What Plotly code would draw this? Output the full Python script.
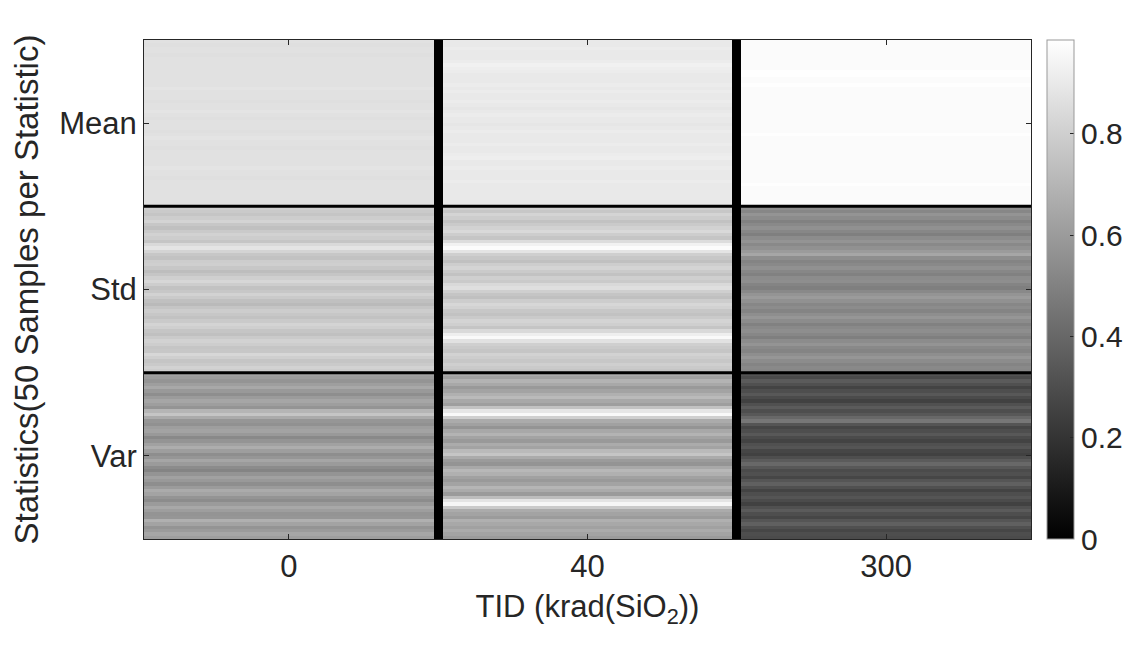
import plotly.graph_objects as go

# ---- data ----
tid_labels = ["0", "40", "300"]
stat_labels = ["Mean", "Std", "Var"]

mean0 = [0.87, 0.86, 0.87, 0.87, 0.86, 0.87, 0.87, 0.87, 0.87, 0.87, 0.87, 0.87, 0.87, 0.87, 0.88, 0.87, 0.87, 0.87, 0.86, 0.87,
         0.87, 0.88, 0.87, 0.86, 0.87, 0.87, 0.87, 0.86, 0.87, 0.88, 0.87, 0.87, 0.86, 0.87, 0.87, 0.87, 0.87, 0.87, 0.88, 0.87,
         0.87, 0.86, 0.87, 0.87, 0.87, 0.87, 0.87, 0.87, 0.87, 0.87]
mean40 = [0.90, 0.90, 0.91, 0.90, 0.90, 0.90, 0.91, 0.93, 0.92, 0.91, 0.90, 0.90, 0.90, 0.91, 0.90, 0.91, 0.90, 0.90, 0.91, 0.90,
          0.89, 0.90, 0.91, 0.90, 0.90, 0.89, 0.90, 0.91, 0.90, 0.90, 0.90, 0.91, 0.90, 0.90, 0.91, 0.92, 0.90, 0.90, 0.91, 0.90,
          0.90, 0.90, 0.91, 0.90, 0.90, 0.90, 0.90, 0.90, 0.90, 0.90]
mean300 = [0.97, 0.97, 0.97, 0.97, 0.97, 0.97, 0.97, 0.97, 0.97, 0.98, 0.98, 0.97, 0.97, 0.98, 0.97, 0.97, 0.97, 0.97, 0.97, 0.97,
           0.97, 0.97, 0.97, 0.97, 0.97, 0.97, 0.97, 0.97, 0.98, 0.97, 0.97, 0.97, 0.97, 0.97, 0.97, 0.97, 0.97, 0.97, 0.97, 0.97,
           0.97, 0.97, 0.97, 0.98, 0.97, 0.97, 0.97, 0.97, 0.97, 0.97]

std0 = [0.80, 0.78, 0.76, 0.79, 0.82, 0.77, 0.74, 0.78, 0.81, 0.79, 0.76, 0.84, 0.88, 0.82, 0.77, 0.75, 0.79, 0.80, 0.77, 0.73,
        0.76, 0.80, 0.83, 0.79, 0.75, 0.77, 0.81, 0.78, 0.74, 0.72, 0.76, 0.79, 0.77, 0.75, 0.78, 0.82, 0.80, 0.76, 0.74, 0.78,
        0.81, 0.79, 0.76, 0.77, 0.83, 0.80, 0.76, 0.78, 0.81, 0.79]
std40 = [0.80, 0.77, 0.82, 0.79, 0.75, 0.78, 0.81, 0.84, 0.79, 0.76, 0.85, 0.93, 0.97, 0.88, 0.80, 0.77, 0.74, 0.79, 0.82, 0.78,
         0.75, 0.80, 0.78, 0.84, 0.86, 0.80, 0.76, 0.74, 0.79, 0.83, 0.81, 0.77, 0.75, 0.78, 0.82, 0.80, 0.76, 0.84, 0.92, 0.96,
         0.87, 0.80, 0.78, 0.76, 0.81, 0.79, 0.77, 0.80, 0.78, 0.76]
std300 = [0.55, 0.52, 0.57, 0.54, 0.50, 0.53, 0.56, 0.52, 0.49, 0.54, 0.57, 0.53, 0.56, 0.60, 0.64, 0.55, 0.51, 0.53, 0.56, 0.52,
          0.50, 0.54, 0.55, 0.51, 0.49, 0.53, 0.57, 0.60, 0.56, 0.52, 0.54, 0.51, 0.55, 0.58, 0.54, 0.50, 0.53, 0.55, 0.52, 0.49,
          0.54, 0.57, 0.53, 0.51, 0.55, 0.58, 0.54, 0.51, 0.53, 0.52]

var0 = [0.62, 0.60, 0.57, 0.61, 0.65, 0.59, 0.55, 0.60, 0.64, 0.61, 0.57, 0.70, 0.76, 0.66, 0.58, 0.56, 0.61, 0.63, 0.59, 0.53,
        0.57, 0.62, 0.67, 0.61, 0.55, 0.58, 0.64, 0.60, 0.54, 0.51, 0.57, 0.62, 0.59, 0.55, 0.60, 0.66, 0.63, 0.57, 0.54, 0.60,
        0.65, 0.61, 0.57, 0.58, 0.68, 0.63, 0.57, 0.60, 0.64, 0.61]
var40 = [0.66, 0.62, 0.69, 0.65, 0.59, 0.63, 0.68, 0.72, 0.65, 0.61, 0.75, 0.89, 0.96, 0.80, 0.66, 0.62, 0.57, 0.65, 0.69, 0.63,
         0.59, 0.66, 0.63, 0.72, 0.76, 0.66, 0.60, 0.57, 0.65, 0.71, 0.68, 0.62, 0.59, 0.63, 0.70, 0.66, 0.60, 0.73, 0.88, 0.95,
         0.78, 0.66, 0.63, 0.60, 0.68, 0.65, 0.62, 0.66, 0.63, 0.60]
var300 = [0.32, 0.29, 0.35, 0.31, 0.26, 0.30, 0.34, 0.29, 0.25, 0.31, 0.35, 0.30, 0.34, 0.40, 0.46, 0.33, 0.27, 0.30, 0.34, 0.29,
          0.26, 0.31, 0.33, 0.27, 0.25, 0.30, 0.35, 0.40, 0.34, 0.29, 0.31, 0.27, 0.33, 0.37, 0.31, 0.26, 0.30, 0.33, 0.29, 0.25,
          0.31, 0.35, 0.30, 0.27, 0.33, 0.37, 0.31, 0.27, 0.30, 0.29]

separator_value = 0.0
n_per_stat = 50

# ---- build matrix: rows = 150 samples, cols = group, sep, group, sep, group ----
groups = [mean0 + std0 + var0, mean40 + std40 + var40, mean300 + std300 + var300]
n_rows = len(groups[0])
z = []
for r in range(n_rows):
    z.append([groups[0][r], separator_value, groups[1][r], separator_value, groups[2][r]])

sep_w = 0.031
x_edges = [0, 1, 1 + sep_w, 2 + sep_w, 2 + 2 * sep_w, 3 + 2 * sep_w]
tick_x = [0.5, 1.5 + sep_w, 2.5 + 2 * sep_w]
y_edges = list(range(n_rows + 1))
tick_y = [n_per_stat * i + n_per_stat / 2 for i in range(3)]

font_fam = "Liberation Sans, Arial, sans-serif"
ink = "#262626"

fig = go.Figure(go.Heatmap(
    z=z, x=x_edges, y=y_edges,
    colorscale=[[0, "#000000"], [1, "#ffffff"]],
    zmin=0, zmax=0.985,
    colorbar=dict(
        thickness=27, len=1.0, lenmode="fraction",
        y=0.5, yanchor="middle",
        xref="container", x=1047 / 1128, xanchor="left", xpad=0, ypad=0,
        outlinewidth=1, outlinecolor="#999999",
        tickvals=[0, 0.2, 0.4, 0.6, 0.8], ticktext=["0", "0.2", "0.4", "0.6", "0.8"],
        ticks="inside", ticklen=4, tickcolor=ink,
        tickfont=dict(family=font_fam, size=30, color=ink),
    ),
    hoverinfo="skip",
))

for k in range(1, 3):
    fig.add_shape(type="line", xref="x", yref="y",
                  x0=x_edges[0], x1=x_edges[-1], y0=n_per_stat * k, y1=n_per_stat * k,
                  line=dict(color="#000000", width=3))

fig.update_xaxes(
    range=[x_edges[0], x_edges[-1]],
    tickvals=tick_x, ticktext=tid_labels,
    ticks="inside", ticklen=5, tickcolor=ink,
    showline=True, linecolor=ink, linewidth=1, mirror="ticks",
    showgrid=False, zeroline=False,
    tickfont=dict(family=font_fam, size=31, color=ink),
    title=dict(text="TID (krad(SiO<sub>2</sub>))", font=dict(family=font_fam, size=31, color=ink), standoff=12),
)
fig.update_yaxes(
    range=[n_rows, 0],
    tickvals=tick_y, ticktext=stat_labels,
    ticks="inside", ticklen=5, tickcolor=ink,
    showline=True, linecolor=ink, linewidth=1, mirror="ticks",
    showgrid=False, zeroline=False,
    tickfont=dict(family=font_fam, size=31, color=ink),
    title=dict(text="Statistics(50 Samples per Statistic)", font=dict(family=font_fam, size=33, color=ink), standoff=10),
)

fig.update_layout(
    width=1128, height=646,
    margin=dict(l=144, r=97, t=40, b=107),
    paper_bgcolor="white", plot_bgcolor="white",
)

fig.write_html("out.html")
